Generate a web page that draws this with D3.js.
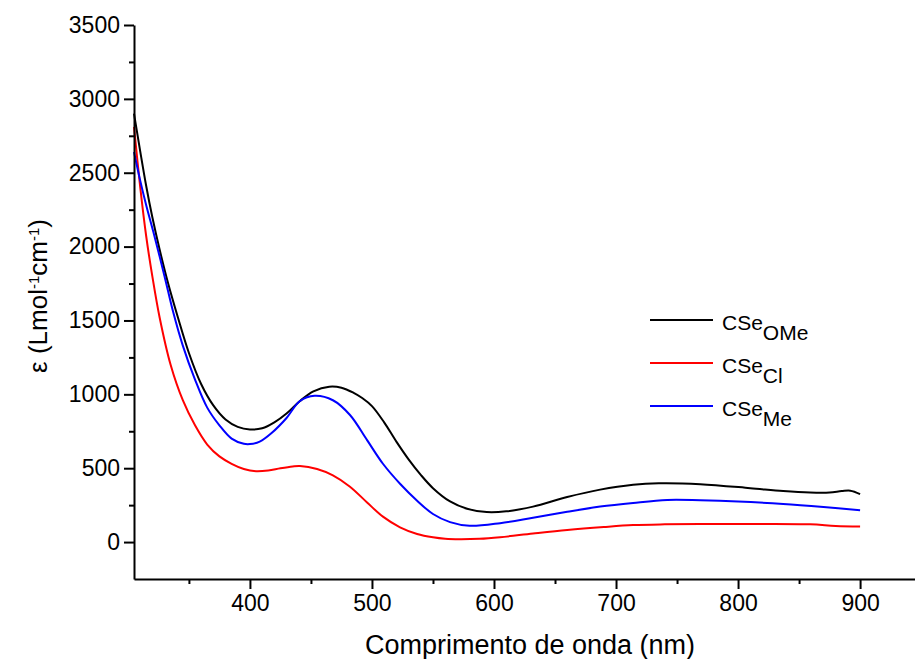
<!DOCTYPE html>
<html>
<head>
<meta charset="utf-8">
<script src="https://cdn.jsdelivr.net/npm/d3@7"></script>
<style>
  body { margin: 0; background: #fff; }
  text { font-family: "Liberation Sans", Arial, sans-serif; }
</style>
</head>
<body>
<div id="container"></div>
<script>
/* CONSTANTS AND GLOBALS */
const width = 915;
const height = 659;
const margin = { left: 134, right: 0, top: 25, bottom: 80 };

/* DATA */
const seriesNames = ["CSeOMe", "CSeCl", "CSeMe"];
const seriesColors = ["#000000", "#ff0000", "#0000ff"];
const subLabels = ["OMe", "Cl", "Me"];

// wavelength (nm) / epsilon
const omeNm = [305, 310, 315, 320, 326, 333, 341, 350, 360, 370, 380, 390, 400, 410, 420, 430, 441, 452, 465, 475, 485, 492, 500, 510, 520, 530, 540, 550, 564, 578, 594, 610, 632, 660, 687, 714, 735, 769, 810, 837, 859, 875, 885, 892, 900];
const omeEps = [2900, 2650, 2410, 2200, 1980, 1750, 1520, 1280, 1070, 925, 830, 780, 762, 770, 810, 870, 955, 1020, 1052, 1045, 1010, 975, 920, 810, 680, 560, 455, 365, 275, 225, 203, 208, 240, 305, 355, 388, 398, 392, 365, 345, 335, 335, 345, 348, 325];

const clNm = [305, 310, 315, 320, 326, 335, 345, 355, 365, 375, 385, 395, 405, 415, 425, 435, 441, 455, 468, 482, 496, 509, 523, 537, 550, 560, 572, 588, 605, 632, 660, 690, 714, 740, 769, 800, 859, 880, 900];
const clEps = [2810, 2410, 2070, 1800, 1520, 1200, 960, 790, 660, 580, 530, 495, 480, 485, 500, 512, 515, 495, 452, 375, 268, 172, 100, 55, 32, 22, 19, 22, 33, 58, 82, 102, 115, 120, 122, 122, 120, 108, 105];

const meNm = [305, 310, 315, 321, 330, 337, 345, 355, 365, 375, 385, 395, 400, 408, 418, 430, 441, 453, 468, 482, 496, 509, 523, 537, 550, 564, 580, 605, 632, 660, 687, 714, 742, 769, 800, 837, 870, 900];
const meEps = [2640, 2450, 2280, 2095, 1800, 1560, 1330, 1100, 910, 790, 700, 665, 663, 680, 740, 840, 955, 990, 960, 860, 690, 530, 395, 280, 190, 135, 110, 128, 165, 205, 240, 265, 285, 283, 275, 258, 237, 215];

const xTicks = [400, 500, 600, 700, 800, 900];
const yTicks = [0, 500, 1000, 1500, 2000, 2500, 3000, 3500];

const series = [
  { name: seriesNames[0], nm: omeNm, eps: omeEps },
  { name: seriesNames[1], nm: clNm, eps: clEps },
  { name: seriesNames[2], nm: meNm, eps: meEps }
];

/* SCALES */
const xScale = d3.scaleLinear()
  .domain([305, 945])
  .range([margin.left, width - margin.right]);

const yScale = d3.scaleLinear()
  .domain([-250, 3500])
  .range([height - margin.bottom, margin.top]);

/* HTML ELEMENTS */
const svg = d3.select("#container")
  .append("svg")
  .attr("width", width)
  .attr("height", height);

// curves
const line = d3.line()
  .x(d => xScale(d[0]))
  .y(d => yScale(d[1]))
  .curve(d3.curveCatmullRom.alpha(0.5));

series.forEach((s, i) => {
  svg.append("path")
    .datum(s.nm.map((n, j) => [n, s.eps[j]]))
    .attr("fill", "none")
    .attr("stroke", seriesColors[i])
    .attr("stroke-width", 2)
    .attr("d", line);
});

// x axis (major + minor)
svg.append("g")
  .attr("transform", `translate(0,${height - margin.bottom})`)
  .call(d3.axisBottom(xScale).tickValues(xTicks).tickSize(10).tickPadding(6).tickSizeOuter(0).tickFormat(d3.format("d")));
svg.append("g")
  .attr("transform", `translate(0,${height - margin.bottom})`)
  .call(d3.axisBottom(xScale).tickValues(d3.range(350, 950, 100)).tickSize(5).tickFormat("").tickSizeOuter(0))
  .select(".domain").remove();

// y axis (major + minor)
svg.append("g")
  .attr("transform", `translate(${margin.left},0)`)
  .call(d3.axisLeft(yScale).tickValues(yTicks).tickSize(10).tickPadding(4).tickSizeOuter(0).tickFormat(d3.format("d")));
svg.append("g")
  .attr("transform", `translate(${margin.left},0)`)
  .call(d3.axisLeft(yScale).tickValues(d3.range(250, 3500, 500)).tickSize(5).tickFormat("").tickSizeOuter(0))
  .select(".domain").remove();

svg.selectAll(".domain, .tick line")
  .attr("stroke", "#000")
  .attr("stroke-width", 2);
svg.selectAll(".tick text")
  .attr("font-size", 23)
  .attr("fill", "#000")
  .style("font-family", "'Liberation Sans', Arial, sans-serif");

// axis titles
svg.append("text")
  .attr("x", 530)
  .attr("y", 654)
  .attr("text-anchor", "middle")
  .attr("font-size", 27)
  .text("Comprimento de onda (nm)");

const yTitle = svg.append("text")
  .attr("transform", "translate(47,296) rotate(-90)")
  .attr("text-anchor", "middle")
  .attr("font-size", 26);
yTitle.append("tspan").text("ε (Lmol");
yTitle.append("tspan").attr("baseline-shift", "super").attr("font-size", 15).text("-1");
yTitle.append("tspan").text("cm");
yTitle.append("tspan").attr("baseline-shift", "super").attr("font-size", 15).text("-1");
yTitle.append("tspan").text(")");

// legend
const legend = svg.append("g");
series.forEach((s, i) => {
  const ly = 320 + i * 43;
  legend.append("line")
    .attr("x1", 650).attr("x2", 713)
    .attr("y1", ly).attr("y2", ly)
    .attr("stroke", seriesColors[i])
    .attr("stroke-width", 2);
  const t = legend.append("text")
    .attr("x", 722)
    .attr("y", ly + 10)
    .attr("font-size", 21);
  t.append("tspan").text("CSe");
  t.append("tspan").attr("dy", 10).text(subLabels[i]);
});
</script>
</body>
</html>
